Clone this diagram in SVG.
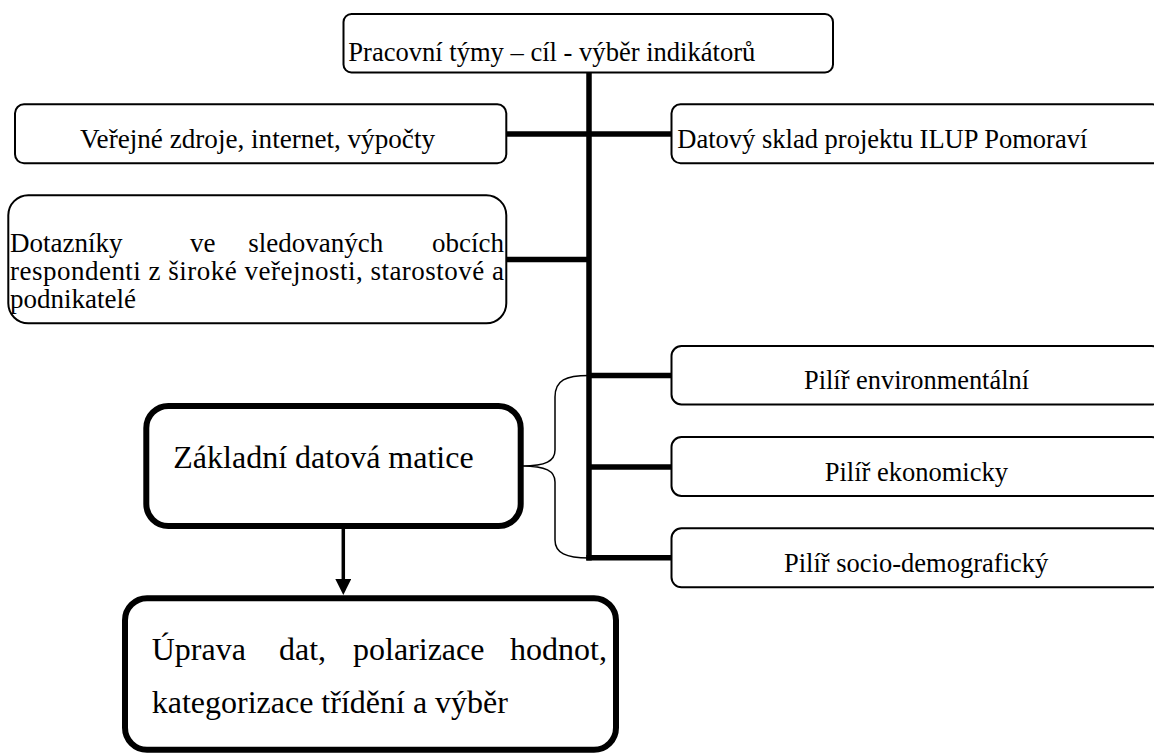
<svg xmlns="http://www.w3.org/2000/svg" width="1154" height="753" viewBox="0 0 1154 753">
<style>
.box{fill:#fff;stroke:#000;stroke-width:2}
.bold{fill:#fff;stroke:#000;stroke-width:6}
.t{font-family:"Liberation Serif","Times New Roman",serif;font-size:27.5px;fill:#000}
.d{font-size:27px}
.big{font-size:32px}
.conn{stroke:#000;stroke-width:5.5;fill:none}
.thin{stroke:#000;stroke-width:1.5;fill:none}
.arr{stroke:#000;stroke-width:3.5;fill:none}
</style>
<defs>
<marker id="ah" viewBox="0 0 16 16" refX="2" refY="8" markerWidth="16" markerHeight="16" markerUnits="userSpaceOnUse" orient="auto">
<path d="M0,0 L16,8 L0,16 z" fill="#000"/>
</marker>
</defs>
<rect width="1154" height="753" fill="#fff"/>
<g id="connectors">
<line class="conn" x1="589" y1="72" x2="589" y2="560.6"/>
<line class="conn" x1="506" y1="134" x2="671" y2="134"/>
<line class="conn" x1="506" y1="259.5" x2="589" y2="259.5"/>
<line class="conn" x1="589" y1="375.5" x2="671" y2="375.5"/>
<line class="conn" x1="589" y1="467" x2="671" y2="467"/>
<line class="conn" x1="586.3" y1="557.8" x2="671" y2="557.8"/>
<path class="thin" d="M589,375.5 C566,375.5 555,380 555,397 L555,450 C555,461 546,466 522,466 C546,466 555,471 555,482 L555,540 C555,553 566,558 589,558"/>
<line class="arr" x1="343.3" y1="529" x2="343.3" y2="581" marker-end="url(#ah)"/>
</g>
<g id="n-top">
<rect class="box" x="343.5" y="14" width="489.5" height="58.5" rx="8"/>
<text class="t" x="348.3" y="60.7" textLength="407" lengthAdjust="spacingAndGlyphs">Pracovní týmy – cíl - výběr indikátorů</text>
</g>
<g id="n-verejne">
<rect class="box" x="15" y="104.3" width="491.3" height="59" rx="9"/>
<text class="t" x="80" y="147.7" textLength="355" lengthAdjust="spacingAndGlyphs">Veřejné zdroje, internet, výpočty</text>
</g>
<g id="n-datovy">
<rect class="box" x="671.5" y="104.3" width="490" height="59" rx="9"/>
<text class="t" x="677.3" y="148.3" textLength="410" lengthAdjust="spacingAndGlyphs">Datový sklad projektu ILUP Pomoraví</text>
</g>
<g id="n-dotazniky">
<rect class="box" x="8.3" y="195.3" width="498" height="128" rx="20"/>
<text class="t d" y="251.7"><tspan x="10">Dotazníky</tspan><tspan x="190">ve</tspan><tspan x="248.3">sledovaných</tspan><tspan x="504" text-anchor="end">obcích</tspan></text>
<text class="t d" x="10" y="280" textLength="494" lengthAdjust="spacing">respondenti z široké veřejnosti, starostové a</text>
<text class="t d" x="10" y="308.3">podnikatelé</text>
</g>
<g id="n-env">
<rect class="box" x="671.5" y="346" width="490" height="58.5" rx="10"/>
<text class="t" x="804" y="389.3" textLength="225" lengthAdjust="spacingAndGlyphs">Pilíř environmentální</text>
</g>
<g id="n-ekon">
<rect class="box" x="671.5" y="437" width="490" height="59" rx="10"/>
<text class="t" x="824.7" y="480.7" textLength="183.3" lengthAdjust="spacingAndGlyphs">Pilíř ekonomicky</text>
</g>
<g id="n-socio">
<rect class="box" x="671.5" y="528.3" width="490" height="59" rx="10"/>
<text class="t" x="784" y="571.7" textLength="264.3" lengthAdjust="spacingAndGlyphs">Pilíř socio-demografický</text>
</g>
<g id="n-zakladni">
<rect class="bold" x="146.3" y="406" width="374.4" height="120" rx="22"/>
<text class="t big" x="173.3" y="468.3">Základní datová matice</text>
</g>
<g id="n-uprava">
<rect class="bold" x="125" y="598.3" width="491" height="151.5" rx="22"/>
<text class="t big" y="659.5"><tspan x="151.7">Úprava</tspan><tspan x="279">dat,</tspan><tspan x="353">polarizace</tspan><tspan x="607" text-anchor="end">hodnot,</tspan></text>
<text class="t big" x="151.7" y="713.3">kategorizace třídění a výběr</text>
</g>
</svg>
